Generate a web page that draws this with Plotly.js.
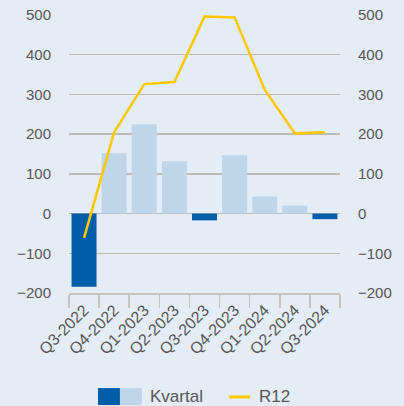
<!DOCTYPE html>
<html><head><meta charset="utf-8">
<script src="https://cdn.plot.ly/plotly-3.0.1.min.js"></script>
<style>html,body{margin:0;padding:0;background:#e4ecf6;}#c{width:404px;height:406px;}</style>
</head><body><div id="c"></div>
<script>
const categories = ["Q3-2022","Q4-2022","Q1-2023","Q2-2023","Q3-2023","Q4-2023","Q1-2024","Q2-2024","Q3-2024"];
const kvartal = [-184, 152, 225, 132, -17, 147, 43, 20, -14];
const r12 = [-61, 205, 326, 331, 496, 494, 312, 202, 205];
const darkBlue = "#005ea8", lightBlue = "#bfd6ea", yellow = "#ffc800";
const barColors = kvartal.map(v => v < 0 ? darkBlue : lightBlue);
const font = {family: "Liberation Sans, Arial, sans-serif", size: 15, color: "#575757"};
const traces = [
  {type: "bar", x: categories, y: kvartal, marker: {color: barColors}, name: "Kvartal", showlegend: false, hoverinfo: "x+y"},
  {type: "scatter", mode: "lines", x: categories, y: r12, line: {color: yellow, width: 2.5}, name: "R12", showlegend: false}
];
const yax = {range: [-200, 500], dtick: 100, showgrid: true, gridcolor: "#bdb9b3", gridwidth: 1.3, zeroline: false, showline: false, ticks: "", ticklabelstandoff: 17, tickfont: font, fixedrange: true};
const layout = {
  width: 404, height: 406,
  margin: {l: 69, r: 64, t: 15, b: 113},
  paper_bgcolor: "#e4ecf6", plot_bgcolor: "#e4ecf6",
  bargap: 0.17,
  font: font,
  xaxis: {type: "category", tickangle: -45, tickfont: {family: font.family, size: 16, color: font.color}, showline: true, linecolor: "#c8c4bd", linewidth: 1.5, ticks: "outside", tickson: "boundaries", ticklen: 13, tickcolor: "#c8c4bd", tickwidth: 1.5, showgrid: false},
  yaxis: yax,
  yaxis2: Object.assign({}, yax, {overlaying: "y", side: "right", showgrid: false}),
  showlegend: false,
  shapes: [
    {type: "rect", xref: "paper", yref: "paper", x0: 0.107, x1: 0.188, y0: -0.403, y1: -0.342, fillcolor: darkBlue, line: {width: 0}},
    {type: "rect", xref: "paper", yref: "paper", x0: 0.188, x1: 0.269, y0: -0.403, y1: -0.342, fillcolor: lightBlue, line: {width: 0}},
    {type: "line", xref: "paper", yref: "paper", x0: 0.590, x1: 0.668, y0: -0.374, y1: -0.374, line: {color: yellow, width: 3}}
  ],
  annotations: [
    {xref: "paper", yref: "paper", x: 0.29, y: -0.372, xanchor: "left", yanchor: "middle", text: "Kvartal", showarrow: false, font: {family: font.family, size: 17, color: font.color}},
    {xref: "paper", yref: "paper", x: 0.692, y: -0.372, xanchor: "left", yanchor: "middle", text: "R12", showarrow: false, font: {family: font.family, size: 17, color: font.color}}
  ]
};
traces.push({type: "scatter", mode: "lines", x: categories, y: r12, yaxis: "y2", line: {width: 0, color: "rgba(0,0,0,0)"}, hoverinfo: "skip", showlegend: false});
Plotly.newPlot("c", traces, layout, {staticPlot: true});
</script></body></html>
